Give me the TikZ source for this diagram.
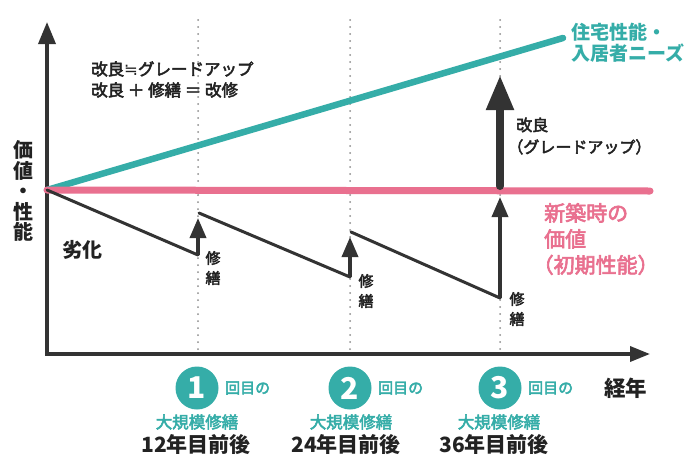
\documentclass[tikz,border=0pt]{standalone}
\usepackage{fontspec}
\setmainfont{Noto Sans CJK JP}
\newfontfamily\medf{Noto Sans CJK JP}[FakeBold=3]
\newfontfamily\symf{DejaVu Sans}
\usetikzlibrary{arrows.meta}
\definecolor{tealc}{HTML}{35ADA8}
\definecolor{pinkc}{HTML}{E9708F}
\definecolor{darkc}{HTML}{333333}
\definecolor{textc}{HTML}{222222}
\definecolor{dotc}{HTML}{8C8C8C}
\tikzset{
  lbl/.style={inner sep=0pt, text=textc},
  dotline/.style={draw=dotc, line width=2pt, line cap=round, dash pattern=on 0pt off 7pt},
  saw/.style={draw=darkc, line width=3pt, line cap=round, line join=round},
  smallarr/.style={draw=darkc, line width=3.5pt, -{Triangle[length=20pt,width=16pt]}},
  bigarr/.style={draw=darkc, line width=8pt, line cap=round, -{Triangle[length=35pt,width=26pt]}},
  numcirc/.style={circle, fill=tealc, minimum size=43pt, inner sep=0pt, text=white, font=\bfseries\fontsize{30}{30}\selectfont},
  kaime/.style={inner sep=0pt, anchor=west, text=tealc, font=\medf\fontsize{15}{15}\selectfont},
  daikibo/.style={inner sep=0pt, text=tealc, font=\medf\fontsize{16.5}{16.5}\selectfont},
  nenme/.style={inner sep=0pt, text=textc, font=\bfseries\fontsize{21}{21}\selectfont},
  shuzen/.style={inner sep=0pt, text=textc, align=center, font=\medf\fontsize{15}{20}\selectfont},
}
\begin{document}
\begin{tikzpicture}[x=1pt,y=-1pt]
\useasboundingbox[fill=white] (0,0) rectangle (700,455);

% key points
\coordinate (O) at (47,190);
\coordinate (ytip) at (47,22);
\coordinate (corner) at (47,354);
\coordinate (xtip) at (650,354);
\coordinate (d1t) at (198,20); \coordinate (d1b) at (198,350);
\coordinate (d2t) at (350,20); \coordinate (d2b) at (350,350);
\coordinate (d3t) at (500,20); \coordinate (d3b) at (500,350);
\coordinate (tealend) at (563,38);
\coordinate (pinkend) at (650,191);

% dotted guide lines
\draw[dotline] (d1t) -- (d1b);
\draw[dotline] (d2t) -- (d2b);
\draw[dotline] (d3t) -- (d3b);

% axes
\draw[draw=darkc, line width=3.5pt, {Triangle[length=22pt,width=17pt]}-{Triangle[length=20pt,width=15pt]}] (ytip) -- (corner) -- (xtip);

% teal and pink lines
\draw[draw=tealc, line width=6.5pt, line cap=round] (O) -- (tealend);
\draw[draw=pinkc, line width=7pt, line cap=round] (O) -- (pinkend);

% sawtooth deterioration
\coordinate (s1b) at (198,255); \coordinate (a1t) at (198,218);
\coordinate (s2a) at (199,213); \coordinate (s2b) at (350,277); \coordinate (a2t) at (350,237);
\coordinate (s3a) at (351,232); \coordinate (s3b) at (500,298); \coordinate (a3t) at (500,197);
\draw[saw] (O) -- (s1b);
\draw[saw] (s2a) -- (s2b);
\draw[saw] (s3a) -- (s3b);
\draw[smallarr] (s1b) -- (a1t);
\draw[smallarr] (s2b) -- (a2t);
\draw[smallarr] (s3b) -- (a3t);

% upgrade arrow
\coordinate (ba) at (500,186); \coordinate (bt) at (500,75);
\draw[bigarr] (ba) -- (bt);

% texts
\node[lbl, anchor=west, font=\medf\fontsize{16.5}{16.5}\selectfont] (t1) at (91,69) {改良{\symf ≒}グレードアップ};
\node[lbl, anchor=west, font=\medf\fontsize{16.5}{16.5}\selectfont] (t2) at (91,90) {改良 ＋ 修繕 ＝ 改修};

\node[lbl, align=center, font=\bfseries\fontsize{20}{20.5}\selectfont] (yl) at (23,191) {価\\値\\・\\性\\能};
\node[lbl, anchor=west, font=\bfseries\fontsize{20}{20}\selectfont] (rekka) at (62,250) {劣化};

\node[shuzen] (sh1) at (213,268) {修\\繕};
\node[shuzen] (sh2) at (366,291) {修\\繕};
\node[shuzen] (sh3) at (517,309) {修\\繕};

\node[lbl, anchor=west, align=left, font=\medf\fontsize{16}{22}\selectfont] (kairyo) at (516,136) {改良\\\hspace*{-0.55em}（グレードアップ）};

\node[inner sep=0pt, anchor=west, align=left, text=tealc, font=\bfseries\fontsize{19}{21.5}\selectfont] (need) at (571,43) {住宅性能・\\入居者ニーズ};

\node[inner sep=0pt, anchor=west, align=left, text=pinkc, font=\medf\fontsize{21}{26}\selectfont] (shin) at (544,239) {新築時の\\価値\\\hspace*{-0.55em}（初期性能）};

\node[lbl, anchor=west, font=\bfseries\fontsize{21.5}{21.5}\selectfont] (keinen) at (604,388) {経年};

% bottom milestones
\node[numcirc] (c1) at (197,388) {1};
\node[numcirc] (c2) at (350,388) {2};
\node[numcirc] (c3) at (500,388) {3};
\node[kaime] (k1) at (225,388) {回目の};
\node[kaime] (k2) at (378,388) {回目の};
\node[kaime] (k3) at (528,388) {回目の};
\node[daikibo] (m1) at (197,422) {大規模修繕};
\node[daikibo] (m2) at (351,422) {大規模修繕};
\node[daikibo] (m3) at (499,422) {大規模修繕};
\node[nenme] (y1) at (196,445) {12年目前後};
\node[nenme] (y2) at (346,445) {24年目前後};
\node[nenme] (y3) at (494,445) {36年目前後};
\end{tikzpicture}
\end{document}
